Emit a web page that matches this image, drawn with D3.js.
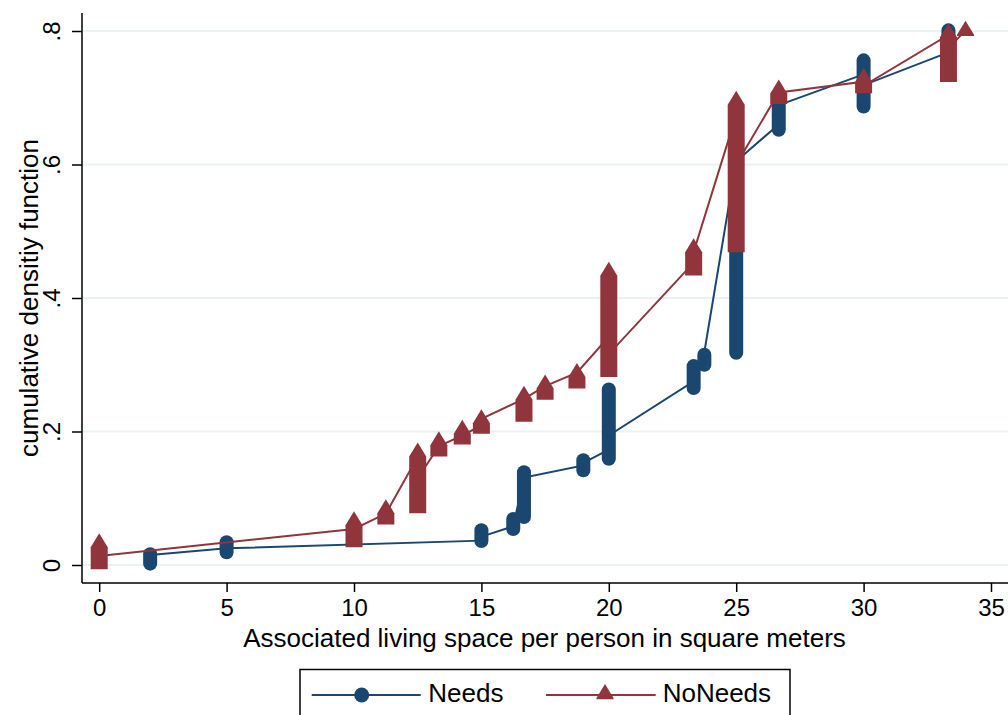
<!DOCTYPE html>
<meta charset="utf-8">
<script src="https://d3js.org/d3.v7.min.js"></script>
<style>
  body { margin: 0; background: #fff; }
  text { font-family: "Liberation Sans", Arial, sans-serif; fill: #000; }
</style>
<div id="chart"></div>
<script>

// ---- data ----
var seriesNames = ["Needs", "NoNeeds"];
var xTicks = [0, 5, 10, 15, 20, 25, 30, 35];
var yTicks = [0, 0.2, 0.4, 0.6, 0.8];

// marker columns: [x, lowest cdf, highest cdf] (tied x values stack up)
var needsMarkers = [
  [2, 0.002, 0.016], [5, 0.019, 0.034], [15, 0.036, 0.052], [16.25, 0.054, 0.069],
  [16.67, 0.072, 0.139], [19, 0.142, 0.157], [20, 0.159, 0.263], [23.33, 0.265, 0.298],
  [23.75, 0.300, 0.315], [25, 0.318, 0.611], [26.67, 0.652, 0.690], [30, 0.687, 0.756],
  [33.33, 0.760, 0.801]
];
var noNeedsMarkers = [
  [0, 0.003, 0.034], [10, 0.036, 0.067], [11.25, 0.070, 0.085], [12.5, 0.087, 0.170],
  [13.33, 0.172, 0.187], [14.25, 0.190, 0.204], [15, 0.206, 0.220], [16.67, 0.224, 0.255],
  [17.5, 0.257, 0.272], [18.75, 0.274, 0.289], [20, 0.291, 0.441], [23.33, 0.443, 0.476],
  [25, 0.478, 0.697], [26.67, 0.700, 0.714], [30, 0.716, 0.731], [33.33, 0.733, 0.798],
  [34, 0.802, 0.802]
];

// connecting line, in plotting order: [x, cdf]
var needsLine = [
  [2, 0.015], [5, 0.025], [15, 0.0365], [15, 0.0425], [16.25, 0.058], [16.67, 0.131],
  [19, 0.149], [19, 0.153], [20, 0.173], [20, 0.194], [23.33, 0.275], [23.75, 0.31],
  [23.75, 0.319], [25, 0.605], [26.67, 0.66], [26.67, 0.689], [30, 0.735], [30, 0.719],
  [33.33, 0.768]
];
var noNeedsLine = [
  [0, 0.0135], [10, 0.054], [11.25, 0.077], [12.5, 0.162], [12.5, 0.13], [13.33, 0.178],
  [14.25, 0.194], [15, 0.209], [15, 0.219], [16.67, 0.249], [17.5, 0.268], [18.75, 0.288],
  [20, 0.342], [20, 0.316], [23.33, 0.453], [23.33, 0.469], [25, 0.674], [25, 0.60],
  [26.67, 0.708], [30, 0.724], [30, 0.718], [33.33, 0.794], [33.33, 0.774], [34, 0.801]
];

var blue = "#1a476f", red = "#90353b", grid = "#eaf2f3";

var width = 1008, height = 715;
var plot = {left: 82, right: 1008, top: 13, bottom: 583};

var svg = d3.select("#chart").append("svg")
  .attr("width", width).attr("height", height);

var x = d3.scaleLinear().domain([0, 35]).range([99.2, 991]);
var y = d3.scaleLinear().domain([0, 0.8]).range([565, 31]);

// gridlines
svg.append("g").selectAll("line").data(yTicks).enter().append("line")
  .attr("x1", plot.left).attr("x2", plot.right)
  .attr("y1", function(d) { return y(d); }).attr("y2", function(d) { return y(d); })
  .attr("stroke", grid).attr("stroke-width", 2);

// x axis
var gx = svg.append("g").attr("transform", "translate(0," + plot.bottom + ")")
  .call(d3.axisBottom(x).tickValues(xTicks).tickSize(9).tickPadding(7).tickFormat(d3.format("d")));
gx.select(".domain").remove();
gx.selectAll("line").attr("stroke", "#000").attr("stroke-width", 1.5);
gx.selectAll("text").style("font-size", "24px").style("font-family", "Liberation Sans, Arial, sans-serif");

// y axis
var gy = svg.append("g").attr("transform", "translate(" + plot.left + ",0)")
  .call(d3.axisLeft(y).tickValues(yTicks).tickSize(10)
    .tickFormat(function(d) { return d === 0 ? "0" : d3.format(".1f")(d).replace(/^0/, ""); }));
gy.select(".domain").remove();
gy.selectAll("line").attr("stroke", "#000").attr("stroke-width", 1.5);
gy.selectAll("text")
  .attr("x", null).attr("dy", null)
  .attr("text-anchor", "middle")
  .attr("transform", "translate(-22,0) rotate(-90)")
  .style("font-size", "24px").style("font-family", "Liberation Sans, Arial, sans-serif");

// axis lines
svg.append("line").attr("x1", plot.left).attr("x2", plot.left)
  .attr("y1", plot.top).attr("y2", plot.bottom).attr("stroke", "#000").attr("stroke-width", 1.5);
svg.append("line").attr("x1", plot.left).attr("x2", plot.right)
  .attr("y1", plot.bottom).attr("y2", plot.bottom).attr("stroke", "#000").attr("stroke-width", 1.5);

// axis titles
svg.append("text")
  .attr("x", 544.5).attr("y", 646.5)
  .attr("text-anchor", "middle").style("font-size", "26px")
  .text("Associated living space per person in square meters");
svg.append("text")
  .attr("transform", "translate(38," + ((plot.top + plot.bottom) / 2) + ") rotate(-90)")
  .attr("text-anchor", "middle").style("font-size", "26px")
  .text("cumulative densitiy function");

var line = d3.line().x(function(d) { return x(d[0]); }).y(function(d) { return y(d[1]); });

// triangle column: apex above the top marker, flat base under the lowest
function triColumn(cx, yTop, yBot) {
  return "M" + cx + "," + (yTop - 9) +
    "L" + (cx + 8.5) + "," + (yTop + 5) +
    "L" + (cx + 8.5) + "," + (yBot + 6.3) +
    "L" + (cx - 8.5) + "," + (yBot + 6.3) +
    "L" + (cx - 8.5) + "," + (yTop + 5) + "Z";
}

// Needs: line then circles
svg.append("path").datum(needsLine)
  .attr("d", line).attr("fill", "none").attr("stroke", blue).attr("stroke-width", 2);
svg.append("g").selectAll("rect").data(needsMarkers).enter().append("rect")
  .attr("x", function(d) { return x(d[0]) - 7; })
  .attr("y", function(d) { return y(d[2]) - 7; })
  .attr("width", 14)
  .attr("height", function(d) { return y(d[1]) - y(d[2]) + 14; })
  .attr("rx", 7).attr("ry", 7)
  .attr("fill", blue);

// NoNeeds: line then triangles
svg.append("path").datum(noNeedsLine)
  .attr("d", line).attr("fill", "none").attr("stroke", red).attr("stroke-width", 2);
svg.append("g").selectAll("path").data(noNeedsMarkers).enter().append("path")
  .attr("d", function(d) { return triColumn(x(d[0]), y(d[2]), y(d[1])); })
  .attr("fill", red);

// legend
var lg = svg.append("g");
lg.append("rect").attr("x", 300).attr("y", 669.5).attr("width", 490).attr("height", 60)
  .attr("fill", "#fff").attr("stroke", "#000").attr("stroke-width", 1.5);
lg.append("line").attr("x1", 311.7).attr("x2", 420.7).attr("y1", 695).attr("y2", 695)
  .attr("stroke", blue).attr("stroke-width", 2);
lg.append("circle").attr("cx", 361.7).attr("cy", 695).attr("r", 7.5).attr("fill", blue);
lg.append("text").attr("x", 428.3).attr("y", 702).style("font-size", "26px").text(seriesNames[0]);
lg.append("line").attr("x1", 546).attr("x2", 655.7).attr("y1", 695).attr("y2", 695)
  .attr("stroke", red).attr("stroke-width", 2);
lg.append("path").attr("d", triColumn(605, 693, 693)).attr("fill", red);
lg.append("text").attr("x", 662.7).attr("y", 702).style("font-size", "26px").text(seriesNames[1]);

</script>
